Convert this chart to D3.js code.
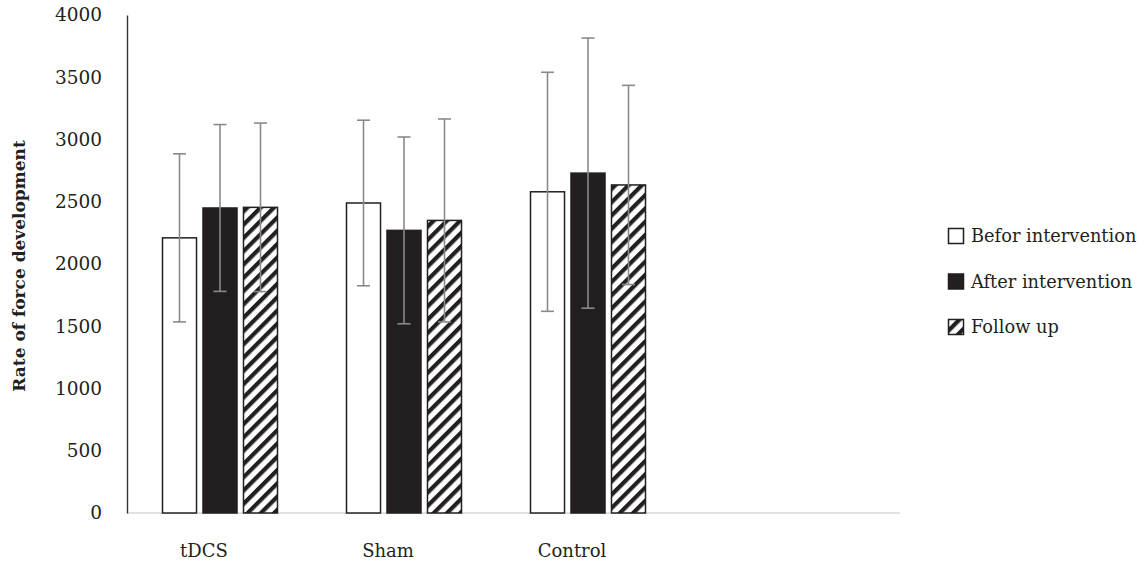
<!DOCTYPE html>
<html>
<head>
<meta charset="utf-8">
<script src="https://cdn.jsdelivr.net/npm/d3@7"></script>
<style>
  html, body { margin: 0; padding: 0; background: #ffffff; }
  svg { display: block; }
  text { font-family: "DejaVu Serif", "Liberation Serif", serif; fill: #231f20; }
</style>
</head>
<body>
<svg id="chart" width="1144" height="566"></svg>
<script>
// ---- data ----
const groups = ["tDCS", "Sham", "Control"];
const seriesNames = ["Befor intervention", "After intervention", "Follow up"];
const beforValues = [2210, 2490, 2580];
const afterValues = [2450, 2270, 2730];
const followValues = [2455, 2350, 2635];
const beforErrors = [675, 665, 960];
const afterErrors = [670, 750, 1085];
const followErrors = [677, 815, 800];
const yTicks = [0, 500, 1000, 1500, 2000, 2500, 3000, 3500, 4000];
const yTitle = "Rate of force development";

const seriesValues = [beforValues, afterValues, followValues];
const seriesErrors = [beforErrors, afterErrors, followErrors];

const svg = d3.select("#chart");
const dark = "#231f20";

// pattern for hatched series
const defs = svg.append("defs");
const pat = defs.append("pattern")
  .attr("id", "hatch")
  .attr("patternUnits", "userSpaceOnUse")
  .attr("width", 9.4).attr("height", 9.4)
  .attr("patternTransform", "rotate(45)");
pat.append("rect").attr("width", 9.4).attr("height", 9.4).attr("fill", "#fff");
pat.append("rect").attr("x", 0).attr("y", 0).attr("width", 4.2).attr("height", 9.4).attr("fill", dark);

const fills = ["#ffffff", dark, "url(#hatch)"];

// scales
const y = d3.scaleLinear().domain([0, 4000]).range([513, 15]);
const x0 = d3.scaleBand().domain(groups).range([128, 680]).paddingInner(0.375).paddingOuter(0.1875);
const x1 = d3.scaleBand().domain(seriesNames).range([0, x0.bandwidth()]).paddingInner(0.16);

// x axis baseline (light gray)
svg.append("line")
  .attr("x1", 127).attr("x2", 900)
  .attr("y1", y(0)).attr("y2", y(0))
  .attr("stroke", "#d9d9d9").attr("stroke-width", 1.5);

// bars
const rows = [];
groups.forEach((g, gi) => {
  seriesNames.forEach((s, si) => {
    rows.push({ group: g, series: s, si, value: seriesValues[si][gi], err: seriesErrors[si][gi] });
  });
});

svg.append("g").selectAll("rect")
  .data(rows)
  .join("rect")
  .attr("x", d => x0(d.group) + x1(d.series))
  .attr("y", d => y(d.value))
  .attr("width", x1.bandwidth())
  .attr("height", d => y(0) - y(d.value))
  .attr("fill", d => fills[d.si])
  .attr("stroke", dark)
  .attr("stroke-width", 1.5);

// error bars
const eb = svg.append("g").attr("stroke", "#8a8a8a").attr("stroke-width", 1.6);
rows.forEach(d => {
  const cx = x0(d.group) + x1(d.series) + x1.bandwidth() / 2;
  const top = y(d.value + d.err), bot = y(d.value - d.err);
  eb.append("line").attr("x1", cx).attr("x2", cx).attr("y1", top).attr("y2", bot);
  eb.append("line").attr("x1", cx - 6.5).attr("x2", cx + 6.5).attr("y1", top).attr("y2", top);
  eb.append("line").attr("x1", cx - 6.5).attr("x2", cx + 6.5).attr("y1", bot).attr("y2", bot);
});

// y axis
const yAxis = svg.append("g")
  .attr("transform", "translate(127,0)")
  .call(d3.axisLeft(y).tickValues(yTicks).tickSize(0).tickSizeOuter(0).tickPadding(25).tickFormat(d3.format("d")));
yAxis.select(".domain").attr("stroke", "#333").attr("stroke-width", 1.4);
yAxis.selectAll("text")
  .attr("font-family", "DejaVu Serif")
  .attr("font-size", 18.5)
  .attr("fill", dark);

// x axis labels
const xAxis = svg.append("g")
  .attr("transform", `translate(0,${y(0)})`)
  .call(d3.axisBottom(x0).tickSize(0).tickPadding(31));
xAxis.select(".domain").remove();
xAxis.selectAll("text")
  .attr("dx", -16)
  .attr("font-family", "DejaVu Serif")
  .attr("font-size", 18)
  .attr("fill", dark);

// y title
svg.append("text")
  .attr("transform", `translate(25,${(y(0) + y(4000)) / 2 + 2}) rotate(-90)`)
  .attr("text-anchor", "middle")
  .attr("font-weight", "bold")
  .attr("font-size", 17)
  .text(yTitle);

// legend
const legend = svg.append("g");
seriesNames.forEach((s, i) => {
  const cy = 236 + i * 45.5;
  legend.append("rect")
    .attr("x", 948.5).attr("y", cy - 7.5)
    .attr("width", 15).attr("height", 15)
    .attr("fill", fills[i])
    .attr("stroke", dark).attr("stroke-width", 1.5);
  legend.append("text")
    .attr("x", 971).attr("y", cy)
    .attr("dy", "0.36em")
    .attr("font-size", 17.8)
    .text(s);
});
</script>
</body>
</html>
